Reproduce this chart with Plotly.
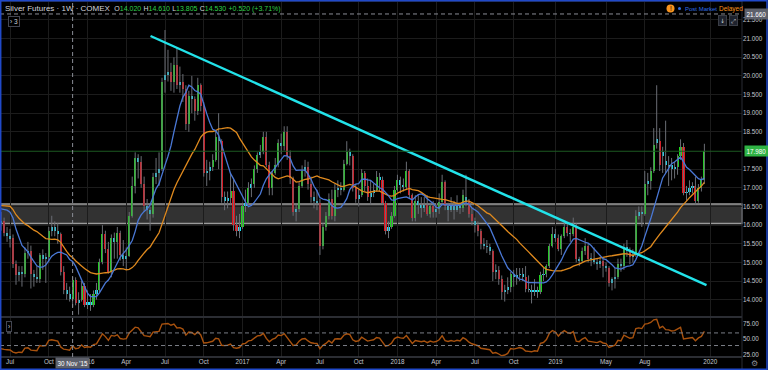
import numpy as np
import pandas as pd
import plotly.graph_objects as go

# ---------------- data ----------------
first_bar = "2015-06-15"   # Monday of the first weekly bar shown

opens = [
    # 2015
    16.05, 16.10, 15.80, 15.70, 15.65, 14.95, 14.65, 14.75, 14.68, 15.25, 15.30, 14.70, 14.62, 14.55, 15.20,
    15.08, 15.15, 15.85, 15.95, 15.85, 15.75, 14.75, 14.25, 14.15, 14.02, 14.53, 13.90, 14.00, 14.38,
    # 2016
    13.85, 13.95, 13.85, 14.15, 14.25, 15.00, 15.75, 15.35, 14.75, 15.65, 15.55, 15.80, 15.20, 15.10, 15.18,
    16.25, 17.05, 17.80, 17.70, 17.10, 16.50, 16.40, 16.30, 17.30, 17.40, 17.50, 19.90, 20.02, 20.10, 19.85,
    20.30, 19.75, 19.85, 19.65, 18.70, 19.45, 19.38, 19.05, 19.75, 19.20, 17.40, 17.45, 17.55, 17.75, 18.35,
    18.25, 16.75, 16.65, 16.72, 16.92, 16.00, 15.85,
    # 2017
    15.95, 16.50, 16.60, 17.00, 17.10, 17.50, 17.88, 17.95, 18.35, 17.60, 17.00, 17.40, 17.60, 18.20, 18.12,
    18.50, 17.85, 17.25, 16.35, 16.42, 17.05, 17.45, 17.55, 17.10, 16.75, 16.65, 16.60, 15.45, 15.95, 16.25,
    16.70, 16.25, 16.95, 17.00, 16.95, 17.65, 17.95, 17.85, 17.00, 16.70, 16.80, 17.40, 17.05, 16.75, 16.85,
    16.95, 17.30, 17.22, 16.60, 15.85, 15.95, 16.25,
    # 2018
    16.95, 17.20, 17.08, 17.02, 17.45, 16.80, 16.20, 16.65, 16.55, 16.45, 16.55, 16.30, 16.50, 16.35, 16.42,
    16.62, 17.15, 16.50, 16.40, 16.50, 16.40, 16.52, 16.45, 16.75, 16.62, 16.30, 16.10, 16.00, 15.85, 15.50,
    15.45, 15.40, 15.30, 14.75, 14.80, 14.55, 14.20, 14.25, 14.35, 14.68, 14.60, 14.65, 14.70, 14.60, 14.30,
    14.25, 14.20, 14.25, 14.20, 14.65, 14.70, 14.90, 15.45,
    # 2019
    15.75, 15.65, 15.35, 15.70, 15.95, 15.80, 15.75, 15.95, 15.10, 15.05, 15.30, 15.45, 15.10, 15.08, 15.00,
    14.95, 15.05, 14.90, 14.85, 14.45, 14.55, 14.60, 14.95, 14.90, 15.40, 15.30, 15.15, 15.20, 16.25, 16.35,
    16.30, 17.10, 17.18, 17.45, 18.20, 18.25, 17.85, 17.72, 17.55, 17.60, 17.50, 17.55, 17.85, 18.10, 16.85,
    16.90, 17.00, 17.05, 16.65, 17.00, 17.20,
]

highs = [
    # 2015
    16.35, 16.20, 15.95, 15.90, 15.75, 15.05, 14.90, 14.90, 15.40, 15.55, 15.45, 14.80, 14.90, 15.25, 15.35,
    15.25, 15.95, 16.25, 16.10, 16.05, 15.80, 14.90, 14.45, 14.35, 14.61, 14.60, 14.20, 14.50, 14.45,
    # 2016
    14.25, 14.15, 14.25, 14.45, 15.10, 16.00, 15.85, 15.55, 15.75, 15.80, 15.95, 15.85, 15.60, 15.40, 16.35,
    17.30, 17.95, 17.90, 17.85, 17.30, 16.70, 16.50, 17.40, 17.80, 17.95, 19.95, 21.23, 20.70, 20.35, 20.50,
    20.75, 20.25, 20.05, 19.75, 19.60, 20.00, 19.45, 19.95, 19.80, 19.30, 17.75, 17.70, 17.90, 18.55, 19.00,
    18.30, 16.90, 16.90, 17.40, 17.25, 16.25, 16.30,
    # 2017
    16.60, 16.95, 17.15, 17.25, 17.60, 17.95, 18.15, 18.50, 18.50, 17.70, 17.45, 17.80, 18.30, 18.45, 18.65,
    18.65, 18.00, 17.30, 16.55, 17.15, 17.60, 17.75, 17.70, 17.30, 16.90, 16.95, 16.70, 16.05, 16.35, 16.85,
    16.95, 17.10, 17.20, 17.15, 17.75, 18.25, 18.05, 17.90, 17.10, 16.95, 17.50, 17.45, 17.25, 17.20, 17.10,
    17.45, 17.40, 17.30, 16.65, 16.10, 16.35, 17.05,
    # 2018
    17.35, 17.30, 17.25, 17.70, 17.50, 16.85, 16.80, 16.80, 16.75, 16.75, 16.80, 16.60, 16.65, 16.55, 16.85,
    17.35, 17.20, 16.60, 16.75, 16.65, 16.80, 16.60, 16.95, 17.35, 16.70, 16.45, 16.20, 16.10, 15.90, 15.65,
    15.60, 15.50, 15.35, 14.95, 14.90, 14.65, 14.40, 14.60, 14.75, 14.80, 14.85, 14.85, 14.85, 14.90, 14.65,
    14.40, 14.55, 14.35, 14.75, 14.85, 14.95, 15.50, 15.95,
    # 2019
    15.90, 15.75, 15.75, 16.10, 16.05, 15.90, 16.20, 16.05, 15.15, 15.40, 15.65, 15.50, 15.25, 15.40, 15.10,
    15.15, 15.10, 15.00, 14.90, 14.60, 14.85, 15.10, 15.10, 15.50, 15.60, 15.40, 15.35, 16.40, 16.50, 16.50,
    17.45, 17.40, 17.55, 18.60, 19.75, 18.60, 18.10, 18.80, 17.85, 17.80, 17.70, 17.90, 18.30, 18.20, 17.05,
    17.20, 17.15, 17.30, 17.10, 17.30, 18.18,
]

lows = [
    # 2015
    15.85, 15.70, 15.55, 15.40, 14.85, 14.40, 14.50, 14.35, 14.60, 15.10, 14.30, 14.35, 14.45, 14.45, 14.80,
    14.45, 15.00, 15.70, 15.70, 15.50, 14.65, 14.15, 14.00, 13.95, 13.805, 13.85, 13.60, 13.95, 13.80,
    # 2016
    13.75, 13.70, 13.80, 14.00, 14.20, 14.95, 15.25, 14.70, 14.60, 15.10, 15.10, 15.05, 14.90, 14.80, 15.15,
    16.20, 16.85, 17.25, 17.00, 16.35, 16.15, 15.85, 16.20, 17.10, 17.05, 17.45, 19.55, 19.85, 19.60, 19.55,
    19.65, 19.55, 19.30, 18.55, 18.50, 19.00, 18.80, 18.95, 19.05, 17.30, 17.05, 17.20, 17.45, 17.70, 17.50,
    16.60, 16.40, 16.45, 16.55, 15.85, 15.70, 15.65,
    # 2017
    15.90, 16.35, 16.55, 16.75, 17.00, 17.40, 17.80, 17.90, 17.55, 16.80, 16.80, 17.35, 17.55, 17.90, 18.00,
    17.75, 17.10, 16.25, 16.10, 16.35, 17.00, 17.30, 16.95, 16.60, 16.45, 16.40, 15.20, 15.35, 15.85, 16.15,
    16.15, 16.10, 16.75, 16.80, 16.90, 17.60, 17.60, 16.90, 16.60, 16.50, 16.75, 16.90, 16.65, 16.55, 16.75,
    16.90, 16.90, 16.55, 15.75, 15.65, 15.90, 16.20,
    # 2018
    16.90, 16.85, 16.90, 16.95, 16.70, 16.10, 16.10, 16.30, 16.20, 16.35, 16.25, 16.20, 16.20, 16.20, 16.30,
    16.60, 16.40, 16.10, 16.35, 16.15, 16.35, 16.30, 16.35, 16.50, 16.20, 16.00, 15.80, 15.70, 15.35, 15.35,
    15.25, 15.20, 14.50, 14.55, 14.40, 14.00, 13.95, 14.15, 14.20, 14.35, 14.40, 14.50, 14.50, 14.20, 14.20,
    13.90, 14.10, 14.05, 14.15, 14.50, 14.60, 14.85, 15.40,
    # 2019
    15.55, 15.30, 15.20, 15.65, 15.70, 15.55, 15.70, 15.00, 14.90, 15.00, 15.20, 15.00, 14.90, 14.95, 14.80,
    14.85, 14.60, 14.75, 14.35, 14.25, 14.30, 14.55, 14.75, 14.80, 15.15, 14.95, 15.00, 15.15, 16.15, 15.95,
    16.25, 16.80, 16.95, 17.40, 18.05, 17.45, 17.40, 17.40, 17.05, 17.20, 17.25, 17.35, 17.75, 16.80, 16.65,
    16.80, 16.85, 16.55, 16.60, 16.90, 17.10,
]

closes = [
    # 2015
    16.12, 15.80, 15.70, 15.62, 14.95, 14.65, 14.75, 14.68, 15.25, 15.30, 14.70, 14.62, 14.55, 15.20, 15.08,
    15.15, 15.85, 15.95, 15.85, 15.75, 14.75, 14.25, 14.15, 14.01, 14.53, 13.90, 13.98, 14.38, 13.85,
    # 2016
    13.95, 13.85, 14.15, 14.25, 15.00, 15.75, 15.35, 14.75, 15.65, 15.55, 15.80, 15.20, 15.10, 15.18, 16.25,
    17.05, 17.80, 17.70, 17.10, 16.50, 16.40, 16.30, 17.30, 17.40, 17.50, 19.85, 20.02, 20.10, 19.85, 20.30,
    19.75, 19.85, 19.65, 18.70, 19.45, 19.38, 19.05, 19.75, 19.20, 17.40, 17.45, 17.55, 17.75, 18.35, 18.25,
    16.75, 16.65, 16.72, 16.92, 16.00, 15.85, 15.95,
    # 2017
    16.50, 16.60, 17.00, 17.10, 17.50, 17.88, 17.95, 18.35, 17.60, 17.00, 17.40, 17.60, 18.20, 18.12, 18.50,
    17.85, 17.25, 16.35, 16.42, 17.05, 17.45, 17.55, 17.10, 16.75, 16.65, 16.60, 15.45, 15.95, 16.25, 16.70,
    16.25, 16.95, 17.00, 16.95, 17.65, 17.95, 17.85, 17.00, 16.70, 16.80, 17.40, 17.05, 16.75, 16.85, 16.95,
    17.30, 17.22, 16.60, 15.85, 15.95, 16.25, 16.95,
    # 2018
    17.20, 17.08, 17.02, 17.45, 16.80, 16.20, 16.65, 16.55, 16.45, 16.55, 16.30, 16.50, 16.35, 16.42, 16.62,
    17.15, 16.50, 16.40, 16.50, 16.40, 16.52, 16.45, 16.80, 16.62, 16.30, 16.10, 16.00, 15.85, 15.50, 15.45,
    15.40, 15.30, 14.75, 14.80, 14.55, 14.20, 14.25, 14.35, 14.68, 14.60, 14.65, 14.70, 14.60, 14.30, 14.25,
    14.20, 14.25, 14.20, 14.65, 14.70, 14.90, 15.45, 15.75,
    # 2019
    15.65, 15.35, 15.70, 15.95, 15.80, 15.75, 15.95, 15.10, 15.05, 15.30, 15.45, 15.10, 15.08, 15.00, 14.95,
    15.05, 14.90, 14.85, 14.45, 14.55, 14.60, 14.95, 14.90, 15.40, 15.30, 15.15, 15.20, 16.25, 16.35, 16.30,
    17.10, 17.18, 17.45, 18.15, 18.32, 17.60, 17.95, 17.62, 17.60, 17.50, 17.55, 17.85, 18.10, 16.85, 16.90,
    17.00, 17.05, 16.65, 17.00, 17.20, 17.98,
]

# weekly closes before the first visible bar (needed to seed the averages / RSI)
warmup_closes = [17.00, 16.10, 15.90, 15.70, 16.00, 17.30, 18.20, 17.20, 16.70, 17.30, 16.40, 16.60, 15.90,
                 15.50, 16.60, 17.00, 16.70, 16.30, 16.10, 15.70, 16.20, 16.50, 17.60, 17.10, 16.70, 16.10, 16.20]

ma_fast_len = 10
ma_slow_len = 26
rsi_len = 14
rsi_levels = [40, 60]
support_zone = [16.045, 16.565]
trend_dates = ["2016-05-31", "2019-12-28"]
trend_prices = [21.07, 14.39]
cross_date = "2015-11-30"
cross_price = 21.66
cross_label = "30 Nov '15"
price_ticks = [14.0, 14.5, 15.0, 15.5, 16.0, 16.5, 17.0, 17.5, 18.5, 19.0, 19.5, 20.0, 20.5, 21.0, 21.5, 22.0]
rsi_ticks = [25, 50, 75]
tick_dates = ["2015-07-06", "2015-10-05", "2016-01-04", "2016-04-04", "2016-07-04", "2016-10-03",
              "2017-01-02", "2017-04-03", "2017-07-03", "2017-10-02", "2018-01-01", "2018-04-02",
              "2018-07-02", "2018-10-01", "2019-01-07", "2019-05-06", "2019-08-05", "2020-01-06"]
tick_text = ["Jul", "Oct", "2016", "Apr", "Jul", "Oct", "2017", "Apr", "Jul", "Oct", "2018", "Apr",
             "Jul", "Oct", "2019", "May", "Aug", "2020"]

# ---------------- derived series ----------------
n = len(closes)
assert len(opens) == n and len(highs) == n and len(lows) == n, (len(opens), len(highs), len(lows), n)
dates = pd.date_range(first_bar, periods=n, freq="W-MON")
warm_dates = pd.date_range(end=dates[0] - pd.Timedelta(days=7), periods=len(warmup_closes), freq="W-MON")
all_dates = warm_dates.append(dates)
all_close = pd.Series(warmup_closes + closes, index=all_dates)
ma_fast = all_close.rolling(ma_fast_len).mean()
ma_slow = all_close.rolling(ma_slow_len).mean()
delta = all_close.diff()
gain = delta.clip(lower=0).ewm(alpha=1 / rsi_len, adjust=False).mean()
loss = (-delta.clip(upper=0)).ewm(alpha=1 / rsi_len, adjust=False).mean()
rsi = 100 - 100 / (1 + gain / loss)

O = np.array(opens); H = np.array(highs); L = np.array(lows); C = np.array(closes)
last_price = closes[-1]

# ---------------- styling / geometry ----------------
W, HGT = 768, 370
PL, PR, PT, PB = 0, 742, 0, 357          # plot area in pixels
MAIN_BOTTOM, RSI_TOP = 316, 318
PX_PER_WEEK = 2.98
ANCHOR = pd.Timestamp("2016-07-04"); ANCHOR_PX = 165
PX_PER_DOLLAR = 37.3
Y14 = 299.7                              # pixel row of the 14.000 label

x0 = ANCHOR - pd.Timedelta(weeks=ANCHOR_PX / PX_PER_WEEK)
x1 = x0 + pd.Timedelta(weeks=(PR - PL) / PX_PER_WEEK)
body_w_ms = 2.1 / PX_PER_WEEK * 7 * 86400000
y_lo = 14 - (MAIN_BOTTOM - Y14) / PX_PER_DOLLAR
y_hi = 14 + (Y14 - PT) / PX_PER_DOLLAR

BG = "#000000"
GRID = "#1c1c1c"
TXT = "#c3c6ce"
UP = "#1fd41f"
DN = "#e8101a"
NEU = "#1fdcf2"
WICK = "#6a6d74"
BLUE = "#4a78d6"
ORANGE = "#e08a1e"
TREND = "#22e3ea"
RSI_C = "#a9520e"
FONT = "Liberation Sans, Arial, sans-serif"
DASH = "4px,3px"

def pxx(p):
    return (p - PL) / (PR - PL)

def pxy(p):
    return (PB - p) / (PB - PT)

body = C - O
colors = np.where(np.abs(body) < 0.145, NEU, np.where(body > 0, UP, DN))
body_base = np.minimum(O, C)
body_h = np.maximum(np.abs(body), 0.03)

wx, wy = [], []
for d, lo, hi in zip(dates, L, H):
    wx += [d, d, None]
    wy += [lo, hi, None]

fig = go.Figure()
fig.add_trace(go.Scatter(x=wx, y=wy, mode="lines", line=dict(color=WICK, width=1),
                         hoverinfo="skip", yaxis="y"))
fig.add_trace(go.Bar(x=dates, y=body_h, base=body_base, width=body_w_ms,
                     marker=dict(color=list(colors), line=dict(width=0)), yaxis="y"))
fig.add_trace(go.Scatter(x=all_dates, y=ma_slow.values, mode="lines",
                         line=dict(color=ORANGE, width=1.3), yaxis="y"))
fig.add_trace(go.Scatter(x=all_dates, y=ma_fast.values, mode="lines",
                         line=dict(color=BLUE, width=1.3), yaxis="y"))
fig.add_trace(go.Scatter(x=pd.to_datetime(trend_dates), y=trend_prices, mode="lines",
                         line=dict(color=TREND, width=2.4), yaxis="y"))
fig.add_trace(go.Scatter(x=all_dates, y=rsi.values, mode="lines",
                         line=dict(color=RSI_C, width=1.4), yaxis="y2"))

shapes = []
# support zone
shapes.append(dict(type="rect", xref="paper", yref="y", x0=0, x1=1, y0=support_zone[0], y1=support_zone[1],
                   fillcolor="rgba(110,110,110,0.45)", line=dict(color="#9a9a9a", width=1.5), layer="below"))
# last price line
shapes.append(dict(type="line", xref="paper", yref="y", x0=0, x1=1, y0=last_price, y1=last_price,
                   line=dict(color="#1d5a22", width=1)))
# rsi levels
for lv in rsi_levels:
    shapes.append(dict(type="line", xref="paper", yref="y2", x0=0, x1=1, y0=lv, y1=lv,
                       line=dict(color="#7a7d86", width=1, dash=DASH)))
# pane separators
for py in (317, 357):
    shapes.append(dict(type="line", xref="paper", yref="paper", x0=0, x1=1, y0=pxy(py), y1=pxy(py),
                       line=dict(color="#3a3d45", width=1.5)))
shapes.append(dict(type="line", xref="paper", yref="paper", x0=1, x1=1, y0=pxy(370), y1=1,
                   line=dict(color="#2a2d35", width=1)))
# crosshair
shapes.append(dict(type="line", xref="x", yref="paper", x0=cross_date, x1=cross_date, y0=0, y1=1,
                   line=dict(color="#8a8d96", width=1, dash=DASH)))
shapes.append(dict(type="line", xref="paper", yref="y", x0=0, x1=1, y0=cross_price, y1=cross_price,
                   line=dict(color="#8a8d96", width=1, dash=DASH)))
# blue frame
shapes.append(dict(type="rect", xref="paper", yref="paper", x0=pxx(0.7), x1=pxx(767), y0=pxy(369.3), y1=pxy(0.7),
                   line=dict(color="#2049c9", width=1.5)))
# orange warning dot and blue status dot
shapes.append(dict(type="circle", xref="paper", yref="paper", x0=pxx(666.5), x1=pxx(674.5), y0=pxy(12.5), y1=pxy(4.5),
                   fillcolor="#f7931e", line=dict(width=0)))
shapes.append(dict(type="circle", xref="paper", yref="paper", x0=pxx(678), x1=pxx(681), y0=pxy(10), y1=pxy(7),
                   fillcolor="#2f6fe6", line=dict(width=0)))

i = list(dates).index(pd.Timestamp(cross_date))
chg = closes[i] - closes[i - 1]
pct = chg / closes[i - 1] * 100
G = "#2fd04a"
SM = "font-size:7px"
hdr = ("Silver Futures · 1W · COMEX  "
       f"<span style='{SM}'>O</span><span style='color:{G};{SM}'>{opens[i]:.3f}</span> "
       f"<span style='{SM}'>H</span><span style='color:{G};{SM}'>{highs[i]:.3f}</span> "
       f"<span style='{SM}'>L</span><span style='color:{G};{SM}'>{lows[i]:.3f}</span> "
       f"<span style='{SM}'>C</span><span style='color:{G};{SM}'>{closes[i]:.3f}</span> "
       f"<span style='color:{G};{SM}'>{chg:+.3f} ({pct:+.2f}%)</span>")

ann = []
ann.append(dict(text=hdr, xref="paper", yref="paper", x=pxx(3), y=pxy(8), xanchor="left", yanchor="middle",
                showarrow=False, font=dict(family=FONT, size=8, color="#d1d4dc")))
ann.append(dict(text="› 3", xref="paper", yref="paper", x=pxx(14), y=pxy(21.5), xanchor="center", yanchor="middle",
                showarrow=False, font=dict(family=FONT, size=6.5, color="#d1d4dc"), bordercolor="#434651",
                borderwidth=1, borderpad=1, bgcolor="#000000"))
ann.append(dict(text="!", xref="paper", yref="paper", x=pxx(670.5), y=pxy(8.5), xanchor="center", yanchor="middle",
                showarrow=False, font=dict(family=FONT, size=6.5, color="#000000")))
ann.append(dict(text="Post Market", xref="paper", yref="paper", x=pxx(683), y=pxy(8.5), xanchor="left",
                yanchor="middle", showarrow=False, font=dict(family=FONT, size=6, color="#2f6fe6")))
ann.append(dict(text="Delayed", xref="paper", yref="paper", x=pxx(717), y=pxy(8.5), xanchor="left",
                yanchor="middle", showarrow=False, font=dict(family=FONT, size=6.5, color="#f7931e")))
for bx, sym in ((722, "↓"), (733, "⤢")):
    ann.append(dict(text=sym, xref="paper", yref="paper", x=pxx(bx), y=pxy(20.5), xanchor="center",
                    yanchor="middle", showarrow=False, font=dict(family="DejaVu Sans", size=6, color="#d1d4dc"),
                    bgcolor="#1e222d", bordercolor="#3a3d45", borderwidth=1, borderpad=1))
# price-scale labels
ann.append(dict(text=f"{cross_price:.3f}", xref="paper", yref="y", x=pxx(744), y=cross_price, xanchor="left",
                yanchor="middle", showarrow=False, font=dict(family=FONT, size=6.3, color="#ffffff"),
                bgcolor="#5d606b", borderpad=1.5))
ann.append(dict(text=f"{last_price:.3f}", xref="paper", yref="y", x=pxx(744), y=last_price, xanchor="left",
                yanchor="middle", showarrow=False, font=dict(family=FONT, size=6.3, color="#ffffff"),
                bgcolor="#2fb344", borderpad=1.5))
ann.append(dict(text=cross_label, xref="x", yref="paper", x=cross_date, y=pxy(363), xanchor="center",
                yanchor="middle", showarrow=False, font=dict(family=FONT, size=6.3, color="#ffffff"),
                bgcolor="#5d606b", borderpad=1.5))
ann.append(dict(text="›", xref="paper", yref="paper", x=pxx(8.5), y=pxy(326), xanchor="center", yanchor="middle",
                showarrow=False, font=dict(family=FONT, size=6.5, color="#d1d4dc"), bordercolor="#434651",
                borderwidth=1, borderpad=1, bgcolor="#000000"))
ann.append(dict(text="⚙", xref="paper", yref="paper", x=pxx(755), y=pxy(363), xanchor="center", yanchor="middle",
                showarrow=False, font=dict(family="DejaVu Sans", size=8, color="#8a8d96")))

TICKF = dict(family=FONT, size=6.3, color=TXT)
fig.update_layout(
    width=W, height=HGT,
    margin=dict(l=PL, r=W - PR, t=PT, b=HGT - PB, pad=0),
    paper_bgcolor=BG, plot_bgcolor=BG,
    showlegend=False, hovermode=False, bargap=0,
    font=dict(family=FONT, size=8, color=TXT),
    xaxis=dict(type="date", range=[x0, x1], anchor="y2", tickvals=pd.to_datetime(tick_dates), ticktext=tick_text,
               showgrid=True, gridcolor=GRID, gridwidth=1, zeroline=False, showline=False, ticks="",
               tickfont=TICKF, fixedrange=True),
    yaxis=dict(domain=[pxy(MAIN_BOTTOM), 1], range=[y_lo, y_hi],
               side="right", anchor="x", tickvals=price_ticks, tickformat=".3f", showgrid=True, gridcolor=GRID,
               zeroline=False, showline=False, ticks="", tickfont=TICKF, fixedrange=True),
    yaxis2=dict(domain=[0, pxy(RSI_TOP)], range=[21.8, 83.7], side="right", anchor="x", tickvals=rsi_ticks,
                tickformat=".2f", showgrid=False, zeroline=False, showline=False, ticks="",
                tickfont=TICKF, fixedrange=True),
    shapes=shapes, annotations=ann,
)

fig.write_html("out.html", config={"displayModeBar": False, "staticPlot": True},
               post_script="document.body.style.margin='0';document.body.style.padding='0';"
                           "document.documentElement.style.overflow='hidden';")
